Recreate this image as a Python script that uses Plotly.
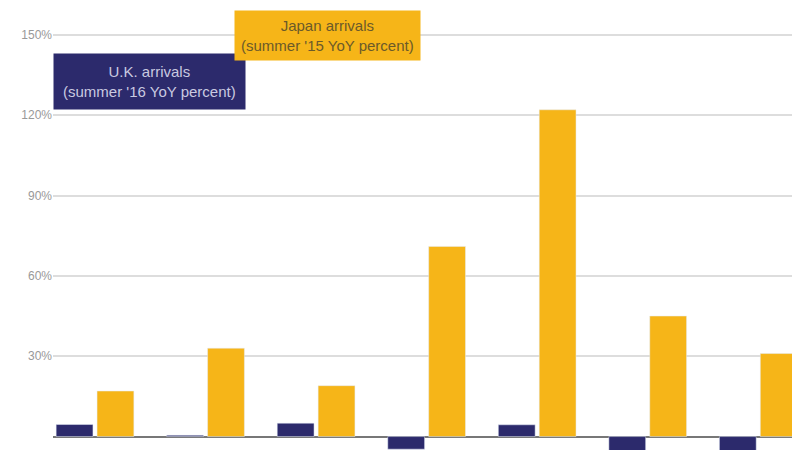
import plotly.graph_objects as go

groups = ["1", "2", "3", "4", "5", "6", "7"]
uk_yoy = [4.5, 0.5, 5, -4.7, 4.4, -12, -8.8]
japan_yoy = [17, 33, 19, 71, 122, 45, 31]
y_ticks = [30, 60, 90, 120, 150]
y_tick_text = ["30%", "60%", "90%", "120%", "150%"]

navy = "#2c2a6c"
gold = "#f6b518"

fig = go.Figure()
fig.add_trace(go.Bar(x=groups, y=uk_yoy, marker_color=navy, name="U.K. arrivals"))
fig.add_trace(go.Bar(x=groups, y=japan_yoy, marker_color=gold, name="Japan arrivals"))

fig.update_layout(
    width=800, height=450,
    margin=dict(l=45, r=0, t=0, b=0),
    paper_bgcolor="white", plot_bgcolor="white",
    barmode="group", bargap=0.26, bargroupgap=0.1,
    showlegend=False,
    font=dict(family="Liberation Sans Narrow, Liberation Sans, sans-serif"),
)
fig.update_xaxes(range=[-0.38, 6.45], showticklabels=False, showgrid=False, zeroline=False)
fig.update_yaxes(
    range=[-8, 160], tickvals=y_ticks, ticktext=y_tick_text,
    tickfont=dict(size=12, color="#999999"),
    gridcolor="#dddddd", gridwidth=1.5,
    zeroline=True, zerolinecolor="#777777", zerolinewidth=1.5,
)

# label boxes top-left
fig.add_annotation(
    xref="paper", yref="paper", x=0.0, y=0.90, xanchor="left", yanchor="top",
    text="U.K. arrivals<br>(summer '16 YoY percent)", showarrow=False,
    bgcolor=navy, font=dict(color="#c9c9e0", size=15), align="center",
    borderpad=9,
)
fig.add_annotation(
    xref="paper", yref="paper", x=0.24, y=0.995, xanchor="left", yanchor="top",
    text="Japan arrivals<br>(summer '15 YoY percent)", showarrow=False,
    bgcolor=gold, font=dict(color="#6b5a2a", size=15), align="center",
    borderpad=6,
)

fig.write_html("out.html")
